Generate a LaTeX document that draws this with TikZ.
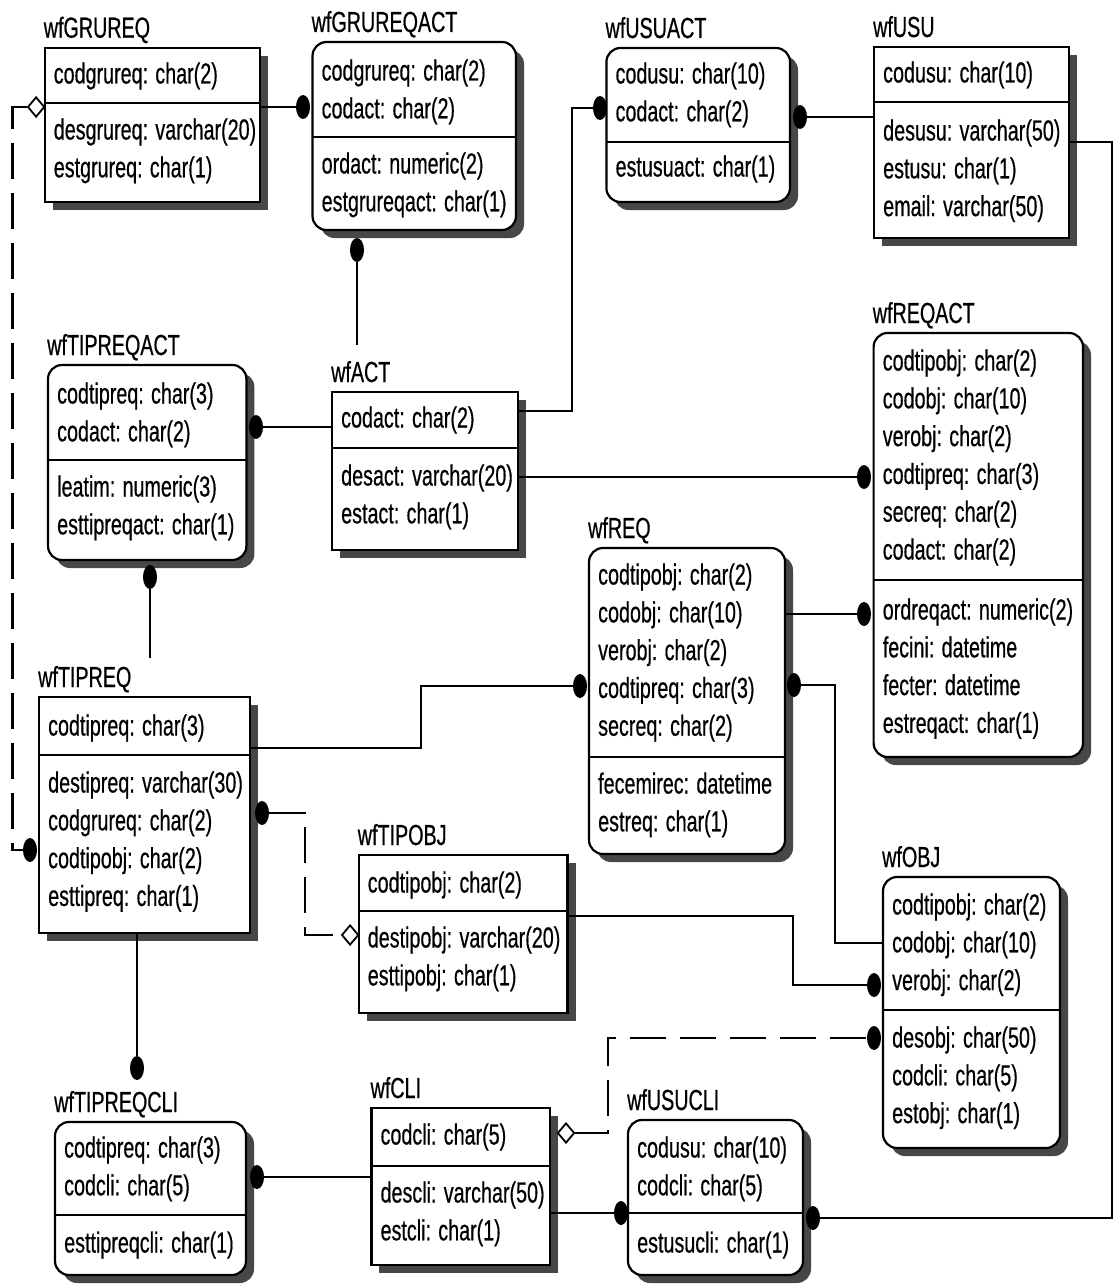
\documentclass[tikz,border=0pt]{standalone}
\usepackage{fontspec}
\setmainfont[FakeStretch=0.68,FakeBold=0.5]{Liberation Sans}
\usetikzlibrary{shapes.geometric,shadows}

% entity box: name, style, left, top, right, bottom, divider, title
\newcommand\entbox[8]{%
  \node[#2, minimum width={#5pt-#3pt}, minimum height={#6pt-#4pt}] (#1) at (#3,-#4) {};
  \draw[divline] (#1.west |- 0,-#7) -- (#1.east |- 0,-#7);
  \node[attr] (#1-name) at ({#3-1},{-#4+10}) {#8};
}
% attribute rows: name prefix, box left, centre of first row, list
\newcommand\attrrows[4]{%
  \foreach \t [count=\i] in {#4} {\node[attr] (#1\i) at ({#2+9},{-(#3+7.5+(\i-1)*37.8)}) {\t};}%
}

\begin{document}
\begin{tikzpicture}[x=1pt,y=1pt,
  ent/.style={draw, line width=2.2pt, fill=white, anchor=north west, inner sep=0pt, outer sep=0pt,
    drop shadow={shadow xshift=8pt, shadow yshift=-8pt, opacity=1, fill=black!72}},
  depent/.style={ent, rounded corners=14pt},
  divline/.style={line width=2.2pt},
  attr/.style={anchor=base west, inner sep=0pt, font=\fontsize{29}{34}\selectfont},
  dot/.style={ellipse, fill=black, inner sep=0pt, minimum width=14pt, minimum height=24pt},
  dia/.style={diamond, draw, fill=white, line width=1.8pt, inner sep=0pt, minimum width=17pt, minimum height=20pt},
  rel/.style={line width=2.1pt},
  nid/.style={rel, dash pattern=on 36pt off 14pt}]
\fill[white] (0,0) rectangle (1117,-1287);
\useasboundingbox (0,0) rectangle (1117,-1287);

% ---- entities ----
\entbox{grureq}{ent}{44.6}{47.7}{260}{202}{103.3}{wfGRUREQ}
\attrrows{grureq-k}{44.6}{76}{codgrureq: char(2)}
\attrrows{grureq-n}{44.6}{132}{desgrureq: varchar(20),estgrureq: char(1)}

\entbox{grureqact}{depent}{312.5}{42}{516}{230}{137}{wfGRUREQACT}
\attrrows{grureqact-k}{312.5}{73}{codgrureq: char(2),codact: char(2)}
\attrrows{grureqact-n}{312.5}{166}{ordact: numeric(2),estgrureqact: char(1)}

\entbox{usuact}{depent}{606.4}{48}{790}{202}{142}{wfUSUACT}
\attrrows{usuact-k}{606.4}{76}{codusu: char(10),codact: char(2)}
\attrrows{usuact-n}{606.4}{169}{estusuact: char(1)}

\entbox{usu}{ent}{874}{47}{1069}{238}{102}{wfUSU}
\attrrows{usu-k}{874}{75}{codusu: char(10)}
\attrrows{usu-n}{874}{133}{desusu: varchar(50),estusu: char(1),email: varchar(50)}

\entbox{tipreqact}{depent}{48}{365}{246.4}{560}{460}{wfTIPREQACT}
\attrrows{tipreqact-k}{48}{396}{codtipreq: char(3),codact: char(2)}
\attrrows{tipreqact-n}{48}{489}{leatim: numeric(3),esttipreqact: char(1)}

\entbox{act}{ent}{332}{392}{518}{550}{448}{wfACT}
\attrrows{act-k}{332}{420}{codact: char(2)}
\attrrows{act-n}{332}{478}{desact: varchar(20),estact: char(1)}

\entbox{reqact}{depent}{873.6}{333}{1083}{757}{580}{wfREQACT}
\attrrows{reqact-k}{873.6}{363}{codtipobj: char(2),codobj: char(10),verobj: char(2),codtipreq: char(3),secreq: char(2),codact: char(2)}
\attrrows{reqact-n}{873.6}{612}{ordreqact: numeric(2),fecini: datetime,fecter: datetime,estreqact: char(1)}

\entbox{req}{depent}{589}{548}{785}{854}{757}{wfREQ}
\attrrows{req-k}{589}{577}{codtipobj: char(2),codobj: char(10),verobj: char(2),codtipreq: char(3),secreq: char(2)}
\attrrows{req-n}{589}{786}{fecemirec: datetime,estreq: char(1)}

\entbox{tipreq}{ent}{39}{697}{250}{933}{755}{wfTIPREQ}
\attrrows{tipreq-k}{39}{728}{codtipreq: char(3)}
\attrrows{tipreq-n}{39}{785}{destipreq: varchar(30),codgrureq: char(2),codtipobj: char(2),esttipreq: char(1)}

\entbox{tipobj}{ent}{358.6}{855}{567.5}{1013}{911}{wfTIPOBJ}
\attrrows{tipobj-k}{358.6}{885}{codtipobj: char(2)}
\attrrows{tipobj-n}{358.6}{940}{destipobj: varchar(20),esttipobj: char(1)}

\entbox{obj}{depent}{883}{877}{1060}{1148}{1010}{wfOBJ}
\attrrows{obj-k}{883}{907}{codtipobj: char(2),codobj: char(10),verobj: char(2)}
\attrrows{obj-n}{883}{1040}{desobj: char(50),codcli: char(5),estobj: char(1)}

\entbox{tipreqcli}{depent}{55}{1122}{246}{1275}{1215}{wfTIPREQCLI}
\attrrows{tipreqcli-k}{55}{1150}{codtipreq: char(3),codcli: char(5)}
\attrrows{tipreqcli-n}{55}{1245}{esttipreqcli: char(1)}

\entbox{cli}{ent}{371.4}{1108}{550}{1265}{1166}{wfCLI}
\attrrows{cli-k}{371.4}{1137}{codcli: char(5)}
\attrrows{cli-n}{371.4}{1195}{descli: varchar(50),estcli: char(1)}

\entbox{usucli}{depent}{628}{1120}{803}{1275}{1213}{wfUSUCLI}
\attrrows{usucli-k}{628}{1150}{codusu: char(10),codcli: char(5)}
\attrrows{usucli-n}{628}{1245}{estusucli: char(1)}

% ---- relationship ends ----
\node[dot] (d1) at (303,-107) {};
\node[dot] (d2) at (357,-250) {};
\node[dot] (d3) at (256,-427) {};
\node[dot] (d4) at (150,-577) {};
\node[dot] (d5) at (600,-108) {};
\node[dot] (d6) at (800,-117) {};
\node[dot] (d7) at (864,-477) {};
\node[dot] (d8) at (864,-614) {};
\node[dot] (d9) at (580,-686) {};
\node[dot] (d10) at (794,-685) {};
\node[dot] (d11) at (262,-813) {};
\node[dot] (d12) at (30,-850) {};
\node[dot] (d13) at (874,-985) {};
\node[dot] (d14) at (874,-1038) {};
\node[dot] (d15) at (137,-1068) {};
\node[dot] (d16) at (257,-1177) {};
\node[dot] (d17) at (621,-1213) {};
\node[dot] (d18) at (813,-1218) {};
\node[dia] (e1) at (36.1,-107) {};
\node[dia] (e2) at (350.1,-935) {};
\node[dia] (e3) at (566,-1133) {};

% ---- bend points ----
\coordinate (act-top) at (357,-345);
\coordinate (tipreq-top) at (150,-658);
\coordinate (b5) at (572,-411);
\coordinate (b9) at (421,-748);
\coordinate (b10) at (835,-943);
\coordinate (b11) at (305,-935);
\coordinate (b12) at (12.5,-107);
\coordinate (b13) at (793,-916);
\coordinate (b14) at (608,-1133);
\coordinate (b18) at (1112,-142);

% ---- relationships ----
\draw[rel] (grureq.east |- d1) -- (d1);
\draw[rel] (d2) -- (act-top);
\draw[rel] (d3) -- (act.west |- d3);
\draw[rel] (d4) -- (tipreq-top);
\draw[rel] (act.east |- b5) -- (b5) |- (d5);
\draw[rel] (d6) -- (usu.west |- d6);
\draw[rel] (act.east |- d7) -- (d7);
\draw[rel] (req.east |- d8) -- (d8);
\draw[rel] (tipreq.east |- b9) -- (b9) |- (d9);
\draw[rel] (d10) -| (b10) -- (obj.west |- b10);
\draw[nid] (d11) -| (b11) -- (e2.west);
\draw[nid] (e1.west) -- (b12) |- (d12);
\draw[rel] (tipobj.east |- b13) -- (b13) |- (d13);
\draw[nid] (e3.east) -- (b14) |- (d14);
\draw[rel] (d15 |- tipreq.south) -- (d15);
\draw[rel] (d16) -- (cli.west |- d16);
\draw[rel] (cli.east |- d17) -- (d17);
\draw[rel] (d18) -| (b18) -- (usu.east |- b18);
\end{tikzpicture}
\end{document}
